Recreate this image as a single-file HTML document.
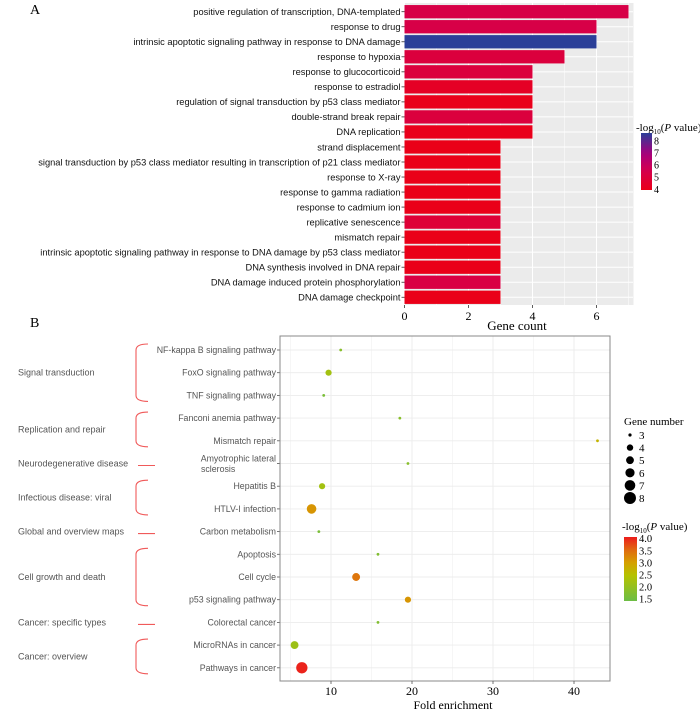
<!DOCTYPE html>
<html><head><meta charset="utf-8"><style>
html,body{margin:0;padding:0;background:#fff;}
svg{display:block;}
.sans{font-family:"Liberation Sans",Arial,sans-serif;}
.serif{font-family:"Liberation Serif","Times New Roman",serif;}
</style></head><body>
<svg id="fig" width="700" height="711" viewBox="0 0 700 711" xmlns="http://www.w3.org/2000/svg">
<text x="30" y="14" class="serif" font-size="14">A</text>
<text x="30" y="327" class="serif" font-size="14">B</text>
<g id="A"></g>
<g id="B"></g>
</svg>
<script>
const goTerms=["positive regulation of transcription, DNA-templated","response to drug","intrinsic apoptotic signaling pathway in response to DNA damage","response to hypoxia","response to glucocorticoid","response to estradiol","regulation of signal transduction by p53 class mediator","double-strand break repair","DNA replication","strand displacement","signal transduction by p53 class mediator resulting in transcription of p21 class mediator","response to X-ray","response to gamma radiation","response to cadmium ion","replicative senescence","mismatch repair","intrinsic apoptotic signaling pathway in response to DNA damage by p53 class mediator","DNA synthesis involved in DNA repair","DNA damage induced protein phosphorylation","DNA damage checkpoint"];
const goCounts=[7,6,6,5,4,4,4,4,4,3,3,3,3,3,3,3,3,3,3,3];
const goLogP=[5.3,5.3,8.6,5.0,5.0,4.3,4.0,5.0,4.0,3.9,3.9,3.9,3.9,3.9,4.8,3.9,3.9,3.9,5.2,3.9];
const goTicks=[0,2,4,6];
const goLegendTicks=[8,7,6,5,4];

const keggTerms=["NF-kappa B signaling pathway","FoxO signaling pathway","TNF signaling pathway","Fanconi anemia pathway","Mismatch repair","Amyotrophic lateral|sclerosis","Hepatitis B","HTLV-I infection","Carbon metabolism","Apoptosis","Cell cycle","p53 signaling pathway","Colorectal cancer","MicroRNAs in cancer","Pathways in cancer"];
const keggFold=[11.2,9.7,9.1,18.5,42.9,19.5,8.9,7.6,8.5,15.8,13.1,19.5,15.8,5.5,6.4];
const keggGenes=[3,5,3,3,3,3,5,7,3,3,6,5,3,6,8];
const keggLogP=[1.8,2.2,1.6,1.8,2.7,1.8,2.2,3.1,1.6,1.7,3.4,3.1,1.7,2.1,4.0];
const keggTicks=[10,20,30,40];
const geneLegend=[3,4,5,6,7,8];
const pLegendTicks=[4.0,3.5,3.0,2.5,2.0,1.5];
const groups=[["Signal transduction",0,2],["Replication and repair",3,4],["Neurodegenerative disease",5,5],["Infectious disease: viral",6,7],["Global and overview maps",8,8],["Cell growth and death",9,11],["Cancer: specific types",12,12],["Cancer: overview",13,14]];

const NS="http://www.w3.org/2000/svg";
function mk(p,tag,attrs,txt){const e=document.createElementNS(NS,tag);for(const k in attrs)e.setAttribute(k,attrs[k]);if(txt!==undefined)e.textContent=txt;p.appendChild(e);return e;}
function lerp(a,b,t){return a+(b-a)*t;}
function hex(c){return [parseInt(c.slice(1,3),16),parseInt(c.slice(3,5),16),parseInt(c.slice(5,7),16)];}
function grad(stops,t){t=Math.max(0,Math.min(1,t));for(let i=0;i<stops.length-1;i++){if(t<=stops[i+1][0]){const u=(t-stops[i][0])/(stops[i+1][0]-stops[i][0]);const a=hex(stops[i][1]),b=hex(stops[i+1][1]);return "rgb("+a.map((v,j)=>Math.round(lerp(v,b[j],u))).join(",")+")";}}return stops[stops.length-1][1];}

// ---------- Panel A ----------
const A=document.getElementById('A');
const ax0=404.5,aUnit=32,aTop=11.7,aPitch=15.03,barH=13.3;
const xA=v=>ax0+v*aUnit, yA=i=>aTop+i*aPitch;
const aStops=[[0,"#ea0018"],[0.35,"#d4004f"],[0.65,"#a4007e"],[1,"#2b3f98"]];
const colA=v=>grad(aStops,(v-3.9)/(8.6-3.9));
const bgA=mk(A,'rect',{x:ax0,y:3,width:229,height:302,fill:'#ebebeb'});


goTicks.concat([1,3,5,7]).forEach(t=>{const g=mk(A,'line',{x1:xA(t),x2:xA(t),y1:3,y2:305,stroke:'#fff','stroke-width':t%2?0.5:1});

});
goTerms.forEach((t,i)=>{const y=yA(i);
const gl=mk(A,'line',{x1:ax0,x2:633,y1:y,y2:y,stroke:'#fff','stroke-width':1});


const b=mk(A,'rect',{x:ax0,y:y-barH/2,width:xA(goCounts[i])-ax0,height:barH,fill:colA(goLogP[i])});


const tk=mk(A,'line',{x1:ax0-3,x2:ax0,y1:y,y2:y,stroke:'#333','stroke-width':0.8});


const l=mk(A,'text',{x:ax0-4,y:y+3.3,'text-anchor':'end','font-size':9.3,fill:'#111',class:'sans'},t);

});
goTicks.forEach(t=>{const tk=mk(A,'line',{x1:xA(t),x2:xA(t),y1:305,y2:308,stroke:'#333','stroke-width':0.8});


const l=mk(A,'text',{x:xA(t),y:320,'text-anchor':'middle','font-size':12,class:'serif'},t);

});
const at=mk(A,'text',{x:517,y:330,'text-anchor':'middle','font-size':13,class:'serif'},'Gene count');


const lgA=mk(A,'text',{x:636,y:131,'font-size':11,class:'serif'});


lgA.innerHTML='-log<tspan font-size="7" dy="3">10</tspan><tspan dy="-3">(</tspan><tspan font-style="italic">P</tspan> value)';
const defs=mk(document.getElementById('fig'),'defs',{});
const gA=mk(defs,'linearGradient',{id:'gA',x1:0,y1:1,x2:0,y2:0});
for(let k=0;k<=10;k++)mk(gA,'stop',{offset:k/10,'stop-color':grad(aStops,k/10)});
const lTop=133,lBot=190,lMin=3.9,lMax=8.6;
const yL=v=>lBot-(v-lMin)/(lMax-lMin)*(lBot-lTop);
const cbA=mk(A,'rect',{x:641,y:lTop,width:11,height:lBot-lTop,fill:'url(#gA)'});


goLegendTicks.forEach(t=>{const l=mk(A,'text',{x:654,y:yL(t)+4,'font-size':10,class:'serif'},t);

});

// ---------- Panel B ----------
const B=document.getElementById('B');
const bx0=250,bUnit=8.1,bL=280,bR=610,bT=336,bB=681,bTop=350,bPitch=22.7;
const xB=v=>bx0+v*bUnit, yB=i=>bTop+i*bPitch;
const rB=g=>1.4+(g-3)*0.85;
const rLeg=g=>g===3?1.6:3.2+(g-4)*0.7;
const bStops=[[0,"#6cbd45"],[0.4,"#b5c200"],[0.6,"#d5a000"],[0.8,"#e06a10"],[1,"#ec1c1c"]];
const colB=v=>grad(bStops,(v-1.4)/(4.05-1.4));
const bg=mk(B,'rect',{x:bL,y:bT,width:bR-bL,height:bB-bT,fill:'#fff'});


[5,10,15,20,25,30,35,40].forEach(t=>{const g=mk(B,'line',{x1:xB(t),x2:xB(t),y1:bT,y2:bB,stroke:'#ececec','stroke-width':t%10?0.5:0.9});

});
keggTerms.forEach((t,i)=>{const y=yB(i);
const g=mk(B,'line',{x1:bL,x2:bR,y1:y,y2:y,stroke:'#ececec','stroke-width':0.9});


const tk=mk(B,'line',{x1:bL-3,x2:bL,y1:y,y2:y,stroke:'#555','stroke-width':0.8});


const parts=t.split('|');
parts.forEach((p,j)=>{const l=mk(B,'text',{x:bL-4,y:y+3+(parts.length>1?(j-0.5)*11:0),'text-anchor':parts.length>1&&j==1?'start':'end','font-size':8.8,fill:'#555',class:'sans'},p);
if(parts.length>1&&j==1)l.setAttribute('x',201);
if(parts.length>1&&j==0)l.setAttribute('y',y-2);

});
const c=mk(B,'circle',{cx:xB(keggFold[i]),cy:y,r:rB(keggGenes[i]),fill:colB(keggLogP[i])});

});
const border=mk(B,'rect',{x:bL,y:bT,width:bR-bL,height:bB-bT,fill:'none',stroke:'#888','stroke-width':1});


keggTicks.forEach(t=>{const tk=mk(B,'line',{x1:xB(t),x2:xB(t),y1:bB,y2:bB+3,stroke:'#555','stroke-width':0.8});


const l=mk(B,'text',{x:xB(t),y:695,'text-anchor':'middle','font-size':12,class:'serif'},t);

});
const bt=mk(B,'text',{x:453,y:709,'text-anchor':'middle','font-size':12,class:'serif'},'Fold enrichment');


groups.forEach(g=>{const y1=yB(g[1]),y2=yB(g[2]);const ym=(y1+y2)/2;
const l=mk(B,'text',{x:18,y:ym+3,'font-size':9,fill:'#555',class:'sans'},g[0]);


let p;
if(g[1]===g[2]){p=mk(B,'line',{x1:138,x2:155,y1:ym+2,y2:ym+2,stroke:'#f05a5a','stroke-width':1.1});}
else{const a=y1-6,b=y2+6,x=136;p=mk(B,'path',{d:`M${x+12},${a} Q${x},${a} ${x},${a+6} L${x},${b-6} Q${x},${b} ${x+12},${b}`,fill:'none',stroke:'#f05a5a','stroke-width':1.1});}

});
const gt=mk(B,'text',{x:624,y:425,'font-size':11,class:'serif'},'Gene number');


geneLegend.forEach((g,k)=>{const y=435+k*12.6;
const c=mk(B,'circle',{cx:630,cy:y,r:rLeg(g),fill:'#000'});


const l=mk(B,'text',{x:639,y:y+4,'font-size':11,class:'serif'},g);

});
const pt=mk(B,'text',{x:622,y:530,'font-size':11,class:'serif'});


pt.innerHTML='-log<tspan font-size="7" dy="3">10</tspan><tspan dy="-3">(</tspan><tspan font-style="italic">P</tspan> value)';
const gB=mk(defs,'linearGradient',{id:'gB',x1:0,y1:1,x2:0,y2:0});
for(let k=0;k<=10;k++)mk(gB,'stop',{offset:k/10,'stop-color':grad(bStops,k/10)});
const pTop=537,pBot=601,pMin=1.4,pMax=4.05;
const yP=v=>pBot-(v-pMin)/(pMax-pMin)*(pBot-pTop);
const cbB=mk(B,'rect',{x:624,y:pTop,width:13,height:pBot-pTop,fill:'url(#gB)'});


pLegendTicks.forEach(t=>{const l=mk(B,'text',{x:639,y:yP(t)+4,'font-size':10.5,class:'serif'},t.toFixed(1));

});
</script>
</body></html>
